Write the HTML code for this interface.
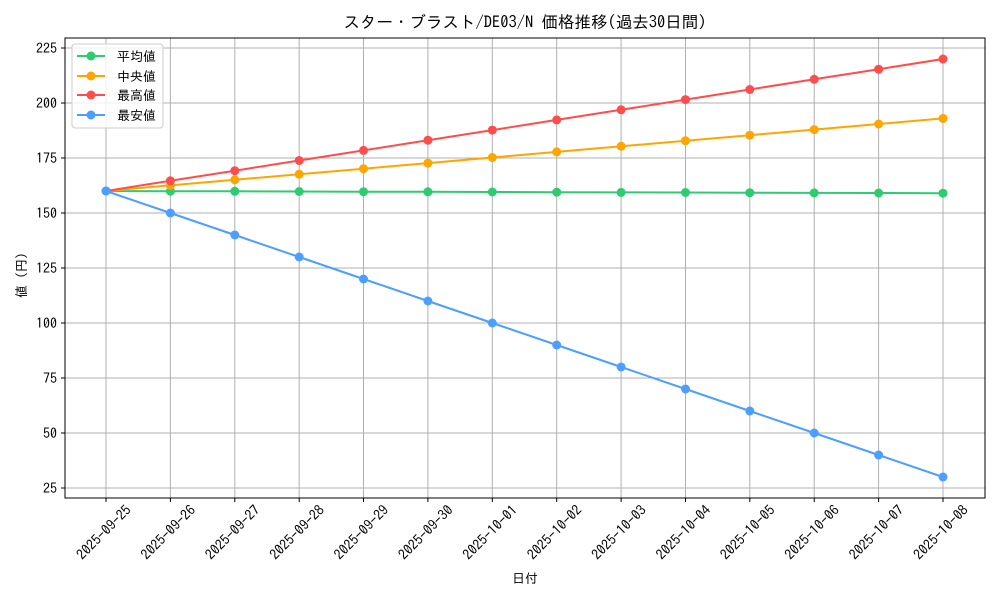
<!DOCTYPE html><html><head><meta charset="utf-8"><style>body{margin:0;background:#fff}svg{display:block;font-family:"IPAGothic","Noto Sans CJK JP",sans-serif}</style></head><body>
<svg width="1000" height="600" xmlns="http://www.w3.org/2000/svg">
<rect width="1000" height="600" fill="#fff"/>
<g stroke="#b0b0b0" stroke-width="1">
<line x1="65" x2="985" y1="488" y2="488"/><line x1="65" x2="985" y1="433" y2="433"/><line x1="65" x2="985" y1="378" y2="378"/><line x1="65" x2="985" y1="323" y2="323"/><line x1="65" x2="985" y1="268" y2="268"/><line x1="65" x2="985" y1="213" y2="213"/><line x1="65" x2="985" y1="158" y2="158"/><line x1="65" x2="985" y1="103" y2="103"/><line x1="65" x2="985" y1="48" y2="48"/>
<line y1="38" y2="498" x1="106" x2="106"/><line y1="38" y2="498" x1="170.4" x2="170.4"/><line y1="38" y2="498" x1="234.8" x2="234.8"/><line y1="38" y2="498" x1="299.2" x2="299.2"/><line y1="38" y2="498" x1="363.5" x2="363.5"/><line y1="38" y2="498" x1="427.9" x2="427.9"/><line y1="38" y2="498" x1="492.3" x2="492.3"/><line y1="38" y2="498" x1="556.7" x2="556.7"/><line y1="38" y2="498" x1="621.1" x2="621.1"/><line y1="38" y2="498" x1="685.5" x2="685.5"/><line y1="38" y2="498" x1="749.8" x2="749.8"/><line y1="38" y2="498" x1="814.2" x2="814.2"/><line y1="38" y2="498" x1="878.6" x2="878.6"/><line y1="38" y2="498" x1="943" x2="943"/>
</g>
<rect x="65" y="38" width="920" height="460" fill="none" stroke="#000" stroke-width="1"/>
<g stroke="#000"><line x1="61" x2="65" y1="488" y2="488"/><line x1="61" x2="65" y1="433" y2="433"/><line x1="61" x2="65" y1="378" y2="378"/><line x1="61" x2="65" y1="323" y2="323"/><line x1="61" x2="65" y1="268" y2="268"/><line x1="61" x2="65" y1="213" y2="213"/><line x1="61" x2="65" y1="158" y2="158"/><line x1="61" x2="65" y1="103" y2="103"/><line x1="61" x2="65" y1="48" y2="48"/>
<line y1="498" y2="502" x1="106" x2="106"/><line y1="498" y2="502" x1="170.4" x2="170.4"/><line y1="498" y2="502" x1="234.8" x2="234.8"/><line y1="498" y2="502" x1="299.2" x2="299.2"/><line y1="498" y2="502" x1="363.5" x2="363.5"/><line y1="498" y2="502" x1="427.9" x2="427.9"/><line y1="498" y2="502" x1="492.3" x2="492.3"/><line y1="498" y2="502" x1="556.7" x2="556.7"/><line y1="498" y2="502" x1="621.1" x2="621.1"/><line y1="498" y2="502" x1="685.5" x2="685.5"/><line y1="498" y2="502" x1="749.8" x2="749.8"/><line y1="498" y2="502" x1="814.2" x2="814.2"/><line y1="498" y2="502" x1="878.6" x2="878.6"/><line y1="498" y2="502" x1="943" x2="943"/></g>
<g font-size="14" text-anchor="end" fill="#000"><text x="57" y="493">25</text><text x="57" y="438">50</text><text x="57" y="383">75</text><text x="57" y="328">100</text><text x="57" y="273">125</text><text x="57" y="218">150</text><text x="57" y="163">175</text><text x="57" y="108">200</text><text x="57" y="53">225</text></g>
<g font-size="14" text-anchor="end" fill="#000">
<text transform="translate(132,511) rotate(-45)">2025-09-25</text><text transform="translate(196.4,511) rotate(-45)">2025-09-26</text><text transform="translate(260.8,511) rotate(-45)">2025-09-27</text><text transform="translate(325.2,511) rotate(-45)">2025-09-28</text><text transform="translate(389.5,511) rotate(-45)">2025-09-29</text><text transform="translate(453.9,511) rotate(-45)">2025-09-30</text><text transform="translate(518.3,511) rotate(-45)">2025-10-01</text><text transform="translate(582.7,511) rotate(-45)">2025-10-02</text><text transform="translate(647.1,511) rotate(-45)">2025-10-03</text><text transform="translate(711.5,511) rotate(-45)">2025-10-04</text><text transform="translate(775.8,511) rotate(-45)">2025-10-05</text><text transform="translate(840.2,511) rotate(-45)">2025-10-06</text><text transform="translate(904.6,511) rotate(-45)">2025-10-07</text><text transform="translate(969,511) rotate(-45)">2025-10-08</text>
</g>
<text x="525" y="583" font-size="13" text-anchor="middle">日付</text>
<text transform="translate(26,272) rotate(-90)" font-size="13" text-anchor="middle">値（円）</text>
<text x="525" y="28" font-size="16.5" text-anchor="middle">スター・ブラスト/DE03/N 価格推移(過去30日間)</text>
<g fill="none" stroke-width="2">
<polyline stroke="#2ecc71" points="106,191 170.4,191.2 234.8,191.3 299.2,191.5 363.5,191.7 427.9,191.8 492.3,192 556.7,192.2 621.1,192.4 685.5,192.5 749.8,192.7 814.2,192.9 878.6,193 943,193.2"/>
<polyline stroke="#ffa500" points="106,191 170.4,185.4 234.8,179.8 299.2,174.2 363.5,168.7 427.9,163.1 492.3,157.5 556.7,151.9 621.1,146.3 685.5,140.7 749.8,135.2 814.2,129.6 878.6,124 943,118.4"/>
<polyline stroke="#ff4d4d" points="106,191 170.4,180.8 234.8,170.7 299.2,160.5 363.5,150.4 427.9,140.2 492.3,130.1 556.7,119.9 621.1,109.8 685.5,99.6 749.8,89.5 814.2,79.3 878.6,69.2 943,59"/>
<polyline stroke="#4d9fff" points="106,191 170.4,213 234.8,235 299.2,257 363.5,279 427.9,301 492.3,323 556.7,345 621.1,367 685.5,389 749.8,411 814.2,433 878.6,455 943,477"/>
</g>
<g fill="#2ecc71"><circle cx="106" cy="191" r="4.5"/><circle cx="170.4" cy="191.2" r="4.5"/><circle cx="234.8" cy="191.3" r="4.5"/><circle cx="299.2" cy="191.5" r="4.5"/><circle cx="363.5" cy="191.7" r="4.5"/><circle cx="427.9" cy="191.8" r="4.5"/><circle cx="492.3" cy="192" r="4.5"/><circle cx="556.7" cy="192.2" r="4.5"/><circle cx="621.1" cy="192.4" r="4.5"/><circle cx="685.5" cy="192.5" r="4.5"/><circle cx="749.8" cy="192.7" r="4.5"/><circle cx="814.2" cy="192.9" r="4.5"/><circle cx="878.6" cy="193" r="4.5"/><circle cx="943" cy="193.2" r="4.5"/></g>
<g fill="#ffa500"><circle cx="170.4" cy="185.4" r="4.5"/><circle cx="234.8" cy="179.8" r="4.5"/><circle cx="299.2" cy="174.2" r="4.5"/><circle cx="363.5" cy="168.7" r="4.5"/><circle cx="427.9" cy="163.1" r="4.5"/><circle cx="492.3" cy="157.5" r="4.5"/><circle cx="556.7" cy="151.9" r="4.5"/><circle cx="621.1" cy="146.3" r="4.5"/><circle cx="685.5" cy="140.7" r="4.5"/><circle cx="749.8" cy="135.2" r="4.5"/><circle cx="814.2" cy="129.6" r="4.5"/><circle cx="878.6" cy="124" r="4.5"/><circle cx="943" cy="118.4" r="4.5"/></g>
<g fill="#ff4d4d"><circle cx="170.4" cy="180.8" r="4.5"/><circle cx="234.8" cy="170.7" r="4.5"/><circle cx="299.2" cy="160.5" r="4.5"/><circle cx="363.5" cy="150.4" r="4.5"/><circle cx="427.9" cy="140.2" r="4.5"/><circle cx="492.3" cy="130.1" r="4.5"/><circle cx="556.7" cy="119.9" r="4.5"/><circle cx="621.1" cy="109.8" r="4.5"/><circle cx="685.5" cy="99.6" r="4.5"/><circle cx="749.8" cy="89.5" r="4.5"/><circle cx="814.2" cy="79.3" r="4.5"/><circle cx="878.6" cy="69.2" r="4.5"/><circle cx="943" cy="59" r="4.5"/></g>
<g fill="#4d9fff"><circle cx="106" cy="191" r="4.5"/><circle cx="170.4" cy="213" r="4.5"/><circle cx="234.8" cy="235" r="4.5"/><circle cx="299.2" cy="257" r="4.5"/><circle cx="363.5" cy="279" r="4.5"/><circle cx="427.9" cy="301" r="4.5"/><circle cx="492.3" cy="323" r="4.5"/><circle cx="556.7" cy="345" r="4.5"/><circle cx="621.1" cy="367" r="4.5"/><circle cx="685.5" cy="389" r="4.5"/><circle cx="749.8" cy="411" r="4.5"/><circle cx="814.2" cy="433" r="4.5"/><circle cx="878.6" cy="455" r="4.5"/><circle cx="943" cy="477" r="4.5"/></g>
<rect x="72" y="44" width="91" height="84" rx="3" fill="#fff" fill-opacity="0.8" stroke="#ccc"/>
<g stroke-width="2"><line x1="77" x2="105" y1="56" y2="56" stroke="#2ecc71"/><line x1="77" x2="105" y1="76" y2="76" stroke="#ffa500"/><line x1="77" x2="105" y1="95" y2="95" stroke="#ff4d4d"/><line x1="77" x2="105" y1="115" y2="115" stroke="#4d9fff"/></g>
<circle cx="91" cy="56" r="4.5" fill="#2ecc71"/><circle cx="91" cy="76" r="4.5" fill="#ffa500"/><circle cx="91" cy="95" r="4.5" fill="#ff4d4d"/><circle cx="91" cy="115" r="4.5" fill="#4d9fff"/>
<g font-size="13"><text x="117" y="61">平均値</text><text x="117" y="81">中央値</text><text x="117" y="100">最高値</text><text x="117" y="120">最安値</text></g>
</svg></body></html>
